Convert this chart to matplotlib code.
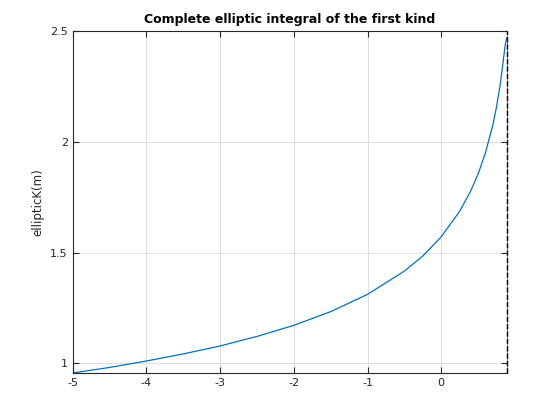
import matplotlib
matplotlib.use('Agg')
import matplotlib.pyplot as plt

# values of ellipticK(m)
m_vals = [-5, -4.5, -4, -3.5, -3, -2.5, -2, -1.5, -1, -0.5, -0.25, 0,
          0.25, 0.4, 0.5, 0.6, 0.7, 0.75, 0.8, 0.83, 0.85, 0.87, 0.89]
k_vals = [0.956, 0.981, 1.010, 1.042, 1.078, 1.121, 1.171, 1.233, 1.311,
          1.416, 1.484, 1.571, 1.686, 1.778, 1.854, 1.950, 2.075, 2.157,
          2.257, 2.335, 2.389, 2.440, 2.470]

x_ticks = [-5, -4, -3, -2, -1, 0]
y_ticks = [1, 1.5, 2, 2.5]
x_tick_labels = ['-5', '-4', '-3', '-2', '-1', '0']
y_tick_labels = ['1', '1.5', '2', '2.5']

axis_col = '#262626'

fig = plt.figure(figsize=(5.6, 4.2), dpi=100)
ax = fig.add_axes([0.13, 0.112, 0.775, 0.814])

ax.plot(m_vals, k_vals, color='#0072BD', linewidth=0.9)

ax.set_xlim(-5, 0.89)
ax.set_ylim(0.956, 2.5)
ax.set_xticks(x_ticks)
ax.set_xticklabels(x_tick_labels)
ax.set_yticks(y_ticks)
ax.set_yticklabels(y_tick_labels)

ax.grid(True, color='#dcdcdc', linewidth=0.7)
ax.set_axisbelow(True)
ax.tick_params(direction='in', top=True, right=True, labelsize=8,
               colors=axis_col, length=4, width=0.8)
for s in ax.spines.values():
    s.set_color(axis_col)
    s.set_linewidth(0.8)
ax.spines['right'].set_color('#8c8c8c')

# dashed marker on right edge, drawn over the spine
ax.axvline(0.89, color='black', linestyle='--', linewidth=1.0,
           zorder=5, clip_on=False)

ax.set_ylabel('ellipticK(m)', fontsize=8.5, color=axis_col)
ax.set_title('Complete elliptic integral of the first kind',
             fontsize=9, fontweight='bold', color='black')

plt.savefig('out.png', dpi=100)
